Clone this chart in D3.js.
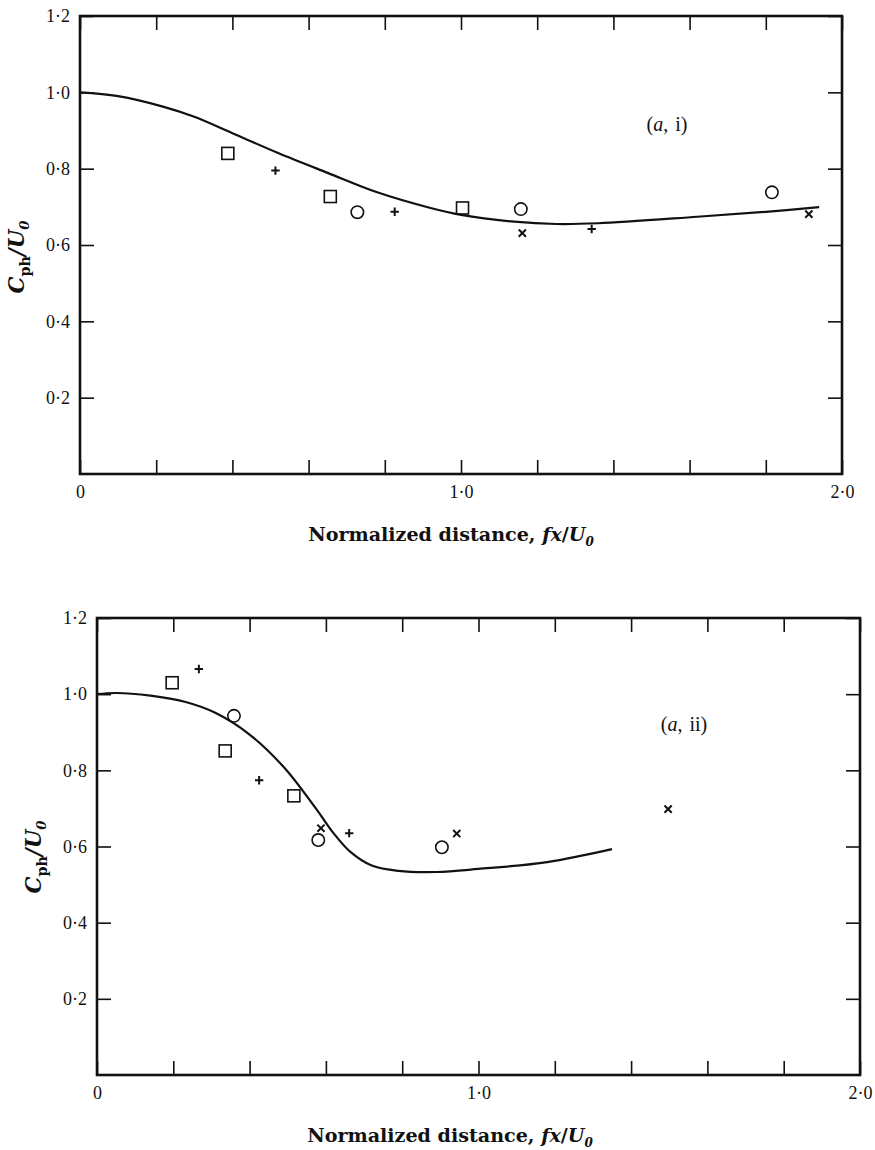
<!DOCTYPE html>
<html><head><meta charset="utf-8">
<script src="https://cdn.jsdelivr.net/npm/d3@7"></script>
<style>body{margin:0;background:#fff}svg{display:block}</style>
</head><body>
<svg id="c" width="875" height="1150"></svg>
<script>
// ---------- data ----------
const xTickValues = [0, 0.2, 0.4, 0.6, 0.8, 1.0, 1.2, 1.4, 1.6, 1.8, 2.0];
const xTickLabels = {0: "0", 1: "1·0", 2: "2·0"};
const yTickValues = [0.2, 0.4, 0.6, 0.8, 1.0, 1.2];
const yTickLabels = {0.2: "0·2", 0.4: "0·4", 0.6: "0·6", 0.8: "0·8", 1: "1·0", 1.2: "1·2"};

// panel (a, i)
const curveI_x = [0, 0.1, 0.22, 0.3, 0.4, 0.52, 0.65, 0.78, 0.92, 1.0, 1.14, 1.25, 1.36, 1.62, 1.8, 1.94];
const curveI_y = [1.0, 0.99, 0.962, 0.936, 0.893, 0.841, 0.789, 0.738, 0.697, 0.679, 0.661, 0.655, 0.657, 0.674, 0.687, 0.699];
const squaresI = [[0.388, 0.84], [0.657, 0.727], [1.004, 0.697]];
const plusesI  = [[0.513, 0.795], [0.826, 0.687], [1.343, 0.642]];
const circlesI = [[0.728, 0.686], [1.157, 0.694], [1.816, 0.738]];
const crossesI = [[1.161, 0.631], [1.913, 0.681]];

// panel (a, ii)
const curveII_x = [0, 0.05, 0.14, 0.23, 0.31, 0.4, 0.49, 0.575, 0.62, 0.665, 0.72, 0.79, 0.89, 1.0, 1.18, 1.35];
const curveII_y = [1.0, 1.003, 0.996, 0.98, 0.951, 0.894, 0.808, 0.698, 0.635, 0.585, 0.55, 0.536, 0.533, 0.541, 0.559, 0.593];
const squaresII = [[0.197, 1.03], [0.336, 0.851], [0.516, 0.733]];
const plusesII  = [[0.267, 1.066], [0.425, 0.774], [0.661, 0.635]];
const circlesII = [[0.359, 0.943], [0.58, 0.617], [0.904, 0.598]];
const crossesII = [[0.587, 0.648], [0.943, 0.634], [1.497, 0.698]];

// ---------- drawing ----------
const svg = d3.select("#c");
const TIMES = "'Liberation Serif', serif";
const CENTURY = "'DejaVu Serif', serif";

function panel(cfg) {
  const {left, right, top, bottom} = cfg;
  const x = d3.scaleLinear().domain([0, 2]).range([left, right]);
  const y = d3.scaleLinear().domain([0, 1.2]).range([bottom, top]);
  const g = svg.append("g");
  const T = 14;

  const key = d => Math.round(d * 10) / 10;
  const fmtX = d => xTickLabels[key(d)] !== undefined ? xTickLabels[key(d)] : "";
  const fmtY = d => yTickLabels[key(d)] || "";

  const styleAxis = (sel) => {
    sel.attr("font-family", TIMES).attr("font-size", 18);
    sel.select(".domain").remove();
    sel.selectAll(".tick line").attr("stroke", "#111").attr("stroke-width", 1.6);
    sel.selectAll(".tick text").attr("fill", "#111");
  };

  g.append("g").attr("transform", `translate(0,${bottom})`)
    .call(d3.axisBottom(x).tickValues(xTickValues).tickSize(-T).tickPadding(11).tickFormat(fmtX))
    .call(styleAxis);
  g.append("g").attr("transform", `translate(0,${top})`)
    .call(d3.axisTop(x).tickValues(xTickValues).tickSize(-T).tickFormat(""))
    .call(styleAxis);
  g.append("g").attr("transform", `translate(${left},0)`)
    .call(d3.axisLeft(y).tickValues(yTickValues).tickSize(-T).tickPadding(10).tickFormat(fmtY))
    .call(styleAxis);
  g.append("g").attr("transform", `translate(${right},0)`)
    .call(d3.axisRight(y).tickValues(yTickValues).tickSize(-T).tickFormat(""))
    .call(styleAxis);

  g.append("rect").attr("x", left).attr("y", top).attr("width", right - left).attr("height", bottom - top)
    .attr("fill", "none").attr("stroke", "#111").attr("stroke-width", 2.6);

  // curve
  const pts = cfg.cx.map((v, i) => [v, cfg.cy[i]]);
  g.append("path").datum(pts)
    .attr("d", d3.line().x(d => x(d[0])).y(d => y(d[1])).curve(d3.curveCatmullRom.alpha(0.5)))
    .attr("fill", "none").attr("stroke", "#111").attr("stroke-width", 2.2);

  // markers
  const s = 12;
  g.selectAll(null).data(cfg.sq).join("rect")
    .attr("x", d => x(d[0]) - s / 2).attr("y", d => y(d[1]) - s / 2)
    .attr("width", s).attr("height", s)
    .attr("fill", "none").attr("stroke", "#111").attr("stroke-width", 1.6);
  g.selectAll(null).data(cfg.ci).join("circle")
    .attr("cx", d => x(d[0])).attr("cy", d => y(d[1])).attr("r", 6.2)
    .attr("fill", "none").attr("stroke", "#111").attr("stroke-width", 1.6);
  const p = 4.2;
  g.selectAll(null).data(cfg.pl).join("path")
    .attr("d", d => `M${x(d[0]) - p},${y(d[1])}H${x(d[0]) + p}M${x(d[0])},${y(d[1]) - p}V${y(d[1]) + p}`)
    .attr("stroke", "#111").attr("stroke-width", 2);
  const c = 3.6;
  g.selectAll(null).data(cfg.cr).join("path")
    .attr("d", d => `M${x(d[0]) - c},${y(d[1]) - c}L${x(d[0]) + c},${y(d[1]) + c}M${x(d[0]) - c},${y(d[1]) + c}L${x(d[0]) + c},${y(d[1]) - c}`)
    .attr("stroke", "#111").attr("stroke-width", 2);

  // panel label
  const lab = g.append("text").attr("x", cfg.labX).attr("y", cfg.labY).attr("text-anchor", "middle")
    .attr("font-family", TIMES).attr("font-size", 20).attr("fill", "#111").attr("word-spacing", 2);
  lab.append("tspan").text("(");
  lab.append("tspan").attr("font-style", "italic").text("a");
  lab.append("tspan").text(", " + cfg.roman + ")");

  // x label
  const xl = g.append("text").attr("x", cfg.xlX).attr("y", bottom + 67).attr("text-anchor", "middle")
    .attr("font-family", CENTURY).attr("font-size", 17).attr("font-weight", "bold").attr("fill", "#111");
  xl.append("tspan").text("Normalized distance, ");
  xl.append("tspan").attr("font-style", "italic").text("fx");
  xl.append("tspan").text("/");
  xl.append("tspan").attr("font-style", "italic").text("U");
  xl.append("tspan").attr("dy", 5).attr("font-size", 12).attr("font-style", "italic").text("0");
  const w = xl.node().getComputedTextLength();
  if (w > 0) xl.attr("font-size", 17 * 287 / w);

  // y label
  const yl = g.append("text").attr("transform", `translate(${left - 56},${cfg.ylY}) rotate(-90)`)
    .attr("text-anchor", "middle")
    .attr("font-family", CENTURY).attr("font-size", 21).attr("font-weight", "bold").attr("font-style", "italic").attr("fill", "#111");
  yl.append("tspan").text("C");
  yl.append("tspan").attr("dy", 6).attr("font-size", 14).attr("font-style", "normal").text("ph");
  yl.append("tspan").attr("dy", -6).text("/U");
  yl.append("tspan").attr("dy", 5).attr("font-size", 13).text("0");
  const wy = yl.node().getComputedTextLength();
  if (wy > 0) {
    const f = 73 / wy;
    yl.attr("font-size", 21 * f);
    yl.selectAll("tspan").each(function() {
      const fs = this.getAttribute("font-size");
      if (fs) this.setAttribute("font-size", fs * f);
    });
  }
}

panel({left: 80, right: 842, top: 16, bottom: 474, cx: curveI_x, cy: curveI_y,
  sq: squaresI, pl: plusesI, ci: circlesI, cr: crossesI, roman: "i", labX: 667, labY: 131, xlX: 451, ylY: 257});
panel({left: 97, right: 860, top: 618, bottom: 1075, cx: curveII_x, cy: curveII_y,
  sq: squaresII, pl: plusesII, ci: circlesII, cr: crossesII, roman: "ii", labX: 684, labY: 731, xlX: 450, ylY: 857});
</script>
</body></html>
